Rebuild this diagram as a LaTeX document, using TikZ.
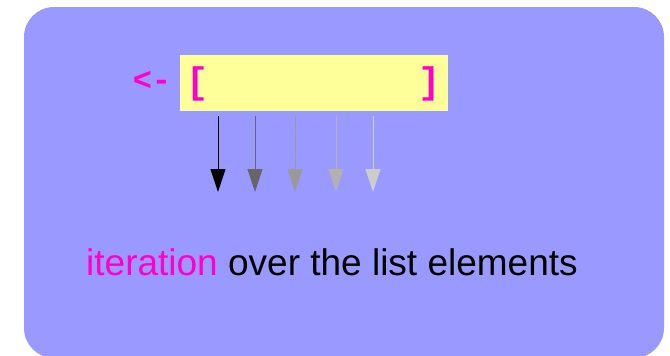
\documentclass[tikz,border=0pt]{standalone}
\usepackage{fontspec}
\setmainfont{Liberation Sans}
\setmonofont{Liberation Mono}
\usetikzlibrary{arrows.meta}
\definecolor{panelblue}{HTML}{9999FF}
\definecolor{listyellow}{HTML}{FFFF99}
\definecolor{listpink}{HTML}{FF00CC}
\begin{document}
\begin{tikzpicture}[x=1pt,y=-1pt,
    bracket/.style={font=\ttfamily\bfseries\fontsize{37}{37}\selectfont, text=listpink, inner sep=0pt},
    walk/.style={-{Triangle[length=23pt,width=15pt]}, line width=1pt}]
    		% frame:
    		\clip (0,0) rectangle (670,356);
    		\fill [panelblue, rounded corners=30pt] (24,7) rectangle (664,358);
    		% list:
    		\node (list) [fill=listyellow, minimum width=268pt, minimum height=56pt, inner sep=0pt] at (314,83) {};
    		\node (open) [bracket] at (197.5,84) {[};
    		\node (close) [bracket] at (430,84) {]};
    		\node (assign) [bracket, font=\ttfamily\bfseries\fontsize{32}{32}\selectfont] at (152,81) {<-};
    		% iteration arrows:
    		\foreach \i/\x/\shade in {1/218/black, 2/255/black!60, 3/295/black!40, 4/336/black!30, 5/373/black!20} {
    			\coordinate (top\i) at (\x,116);
    			\coordinate (tip\i) at (\x,192);
    			\draw [walk, \shade] (top\i) -- (tip\i);
    		}
    		% caption:
    		\node (caption) [anchor=base west, inner sep=0pt, font=\fontsize{37}{37}\selectfont] at (86,275) {\textcolor{listpink}{iteration} over the list elements};
\end{tikzpicture}
\end{document}
